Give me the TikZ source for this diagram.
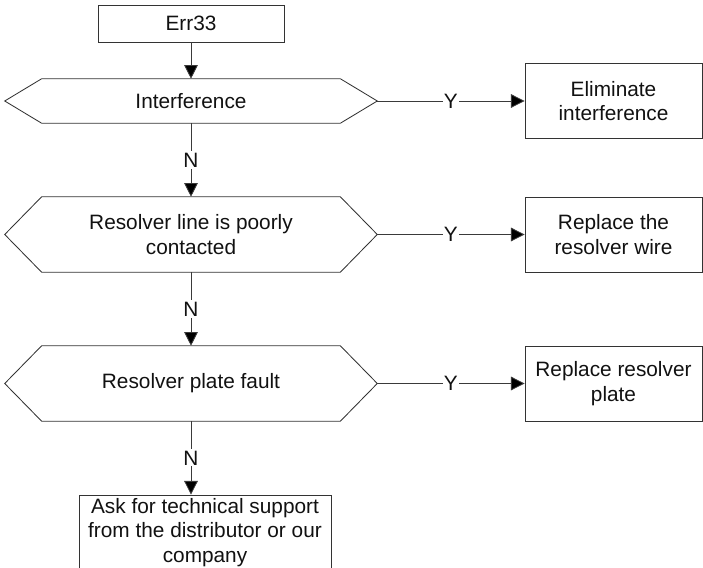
\documentclass[tikz,border=0pt]{standalone}
\usepackage{fontspec}
\setmainfont{Liberation Sans}
\usetikzlibrary{arrows.meta,calc}
\definecolor{ink}{HTML}{111111}
\definecolor{edge}{HTML}{333333}
\definecolor{wire}{HTML}{3A3A3A}
\newcommand{\hexdraw}[1]{%
  \draw[edge, line width=0.6pt] (#1.west) -- ($(#1.north west)+(0.925,0)$)
    -- ($(#1.north east)+(-0.925,0)$) -- (#1.east)
    -- ($(#1.south east)+(-0.925,0)$) -- ($(#1.south west)+(0.925,0)$) -- cycle;}

\begin{document}
\begin{tikzpicture}[
  x=1cm, y=1cm,
  box/.style={
    draw=edge, line width=0.6pt, minimum width=4.425cm, minimum height=1.875cm,
    align=center, inner sep=2pt, text=ink, font=\fontsize{14.8}{17.5}\selectfont
  },
  decision/.style={
    minimum width=9.3cm, minimum height=1.875cm,
    align=center, inner sep=0pt, text=ink, font=\fontsize{14.8}{17.5}\selectfont
  },
  flow/.style={-{Triangle[length=3.4mm,width=3.4mm,fill=black]}, line width=0.6pt, draw=wire},
  lab/.style={font=\fontsize{14.8}{17.5}\selectfont, text=ink, fill=white, inner sep=1pt}
]
\useasboundingbox (0,0) rectangle (17.575,14.2);

%% ---------- start ----------
\node[box, minimum width=4.65cm, minimum height=0.925cm] (err) at (4.775,13.6125) {Err33};

%% ---------- checks ----------
\node[decision, minimum height=1.1cm] (qnoise) at (4.775,11.675) {Interference};
\hexdraw{qnoise}
\node[decision] (qline) at (4.775,8.3375) {Resolver line is poorly\\contacted};
\hexdraw{qline}
\node[decision] (qplate) at (4.775,4.6125) {Resolver plate fault};
\hexdraw{qplate}

%% ---------- remedies ----------
\node[box] (fixnoise) at (15.3375,11.675) {Eliminate\\interference};
\node[box] (fixline) at (15.3375,8.3375) {Replace the\\resolver wire};
\node[box] (fixplate) at (15.3375,4.6125) {Replace resolver\\plate};
\node[box, minimum width=6.3cm] (support) at (5.125,0.8875)
  {Ask for technical support\\from the distributor or our\\company};

%% ---------- flow ----------
\draw[flow] (err.south) -- (qnoise.north);
\draw[flow] (qnoise.south) -- (qline.north) node[lab, midway] {N};
\draw[flow] (qline.south) -- (qplate.north) node[lab, midway] {N};
\draw[flow] (qplate.south) -- (qplate.south |- support.north) node[lab, midway] {N};

\draw[flow] (qnoise.east) -- (fixnoise.west) node[lab, midway] {Y};
\draw[flow] (qline.east) -- (fixline.west) node[lab, midway] {Y};
\draw[flow] (qplate.east) -- (fixplate.west) node[lab, midway] {Y};

\end{tikzpicture}
\end{document}
